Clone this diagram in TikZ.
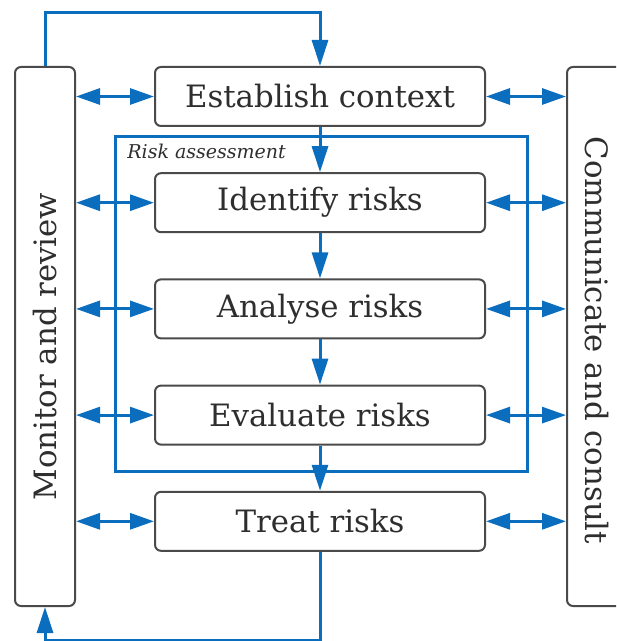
\documentclass[tikz,border=0pt]{standalone}
\usepackage{fontspec}
\setmainfont{DejaVu Serif}
\usepackage{tikz}
\usetikzlibrary{arrows.meta,positioning}
\definecolor{flowblue}{HTML}{0B6DBE}
\definecolor{edgegray}{HTML}{4A4A4A}
\definecolor{inkgray}{HTML}{2E2E2E}

\begin{document}
\begin{tikzpicture}[x=0.5pt,y=-0.5pt,
  node distance=22.6pt,
  stepbox/.style={draw=edgegray,line width=1pt,rounded corners=3pt,fill=white,
                  minimum width=165pt,minimum height=29.5pt,inner sep=0pt,
                  text=inkgray,font=\fontsize{15.4}{18}\selectfont},
  sidebox/.style={draw=edgegray,line width=1pt,rounded corners=3pt,
                  minimum width=30pt,minimum height=269.5pt,inner sep=0pt},
  sidetext/.style={text=inkgray,font=\fontsize{15.4}{18}\selectfont,inner sep=0pt},
  assess/.style={draw=flowblue,line width=1.5pt,minimum width=206pt,
                 minimum height=167pt,inner sep=0pt},
  flow/.style={-{Triangle[length=13pt,width=8pt]},line width=1.5pt,draw=flowblue},
  both/.style={{Triangle[length=12pt,width=8pt]}-{Triangle[length=12pt,width=8pt]},
               line width=1.5pt,draw=flowblue}
]
\clip (0,0) rectangle (616,641);
\node[assess] (ra) at (321,304) {};
\node[anchor=north west,inner sep=0pt,text=inkgray,
      font=\fontsize{9.5}{11}\selectfont\itshape]
  (ralabel) at (127,144) {Risk assessment};
\node[stepbox] (est) at (320,96.5) {Establish context};
\node[stepbox,below=of est] (ident) {Identify risks};
\node[stepbox,below=of ident] (anal) {Analyse risks};
\node[stepbox,below=of anal] (eval) {Evaluate risks};
\node[stepbox,below=of eval] (treat) {Treat risks};
\node[sidebox] (mr) at (45,336.5) {};
\node[sidetext,rotate=90] (mrtext) at ([yshift=-5pt]mr.center) {Monitor and review};
\node[sidebox] (cc) at (597,336.5) {};
\node[sidetext,rotate=-90] (cctext) at ([yshift=-2pt]cc.center) {Communicate and consult};
% main sequence
\draw[flow] (est) -- (ident);
\draw[flow] (ident) -- (anal);
\draw[flow] (anal) -- (eval);
\draw[flow] (eval) -- (treat);
\draw[flow] (mr.north) -- ++(0,-53) -| (est.north);
\draw[flow] (treat.south) -- ++(0,88.5) -| (mr.south);
% both sides
\foreach \s in {est,ident,anal,eval,treat}{
  \draw[both] (mr.east |- \s.west) -- (\s.west);
  \draw[both] (\s.east) -- (cc.west |- \s.east);
}
\end{tikzpicture}
\end{document}
